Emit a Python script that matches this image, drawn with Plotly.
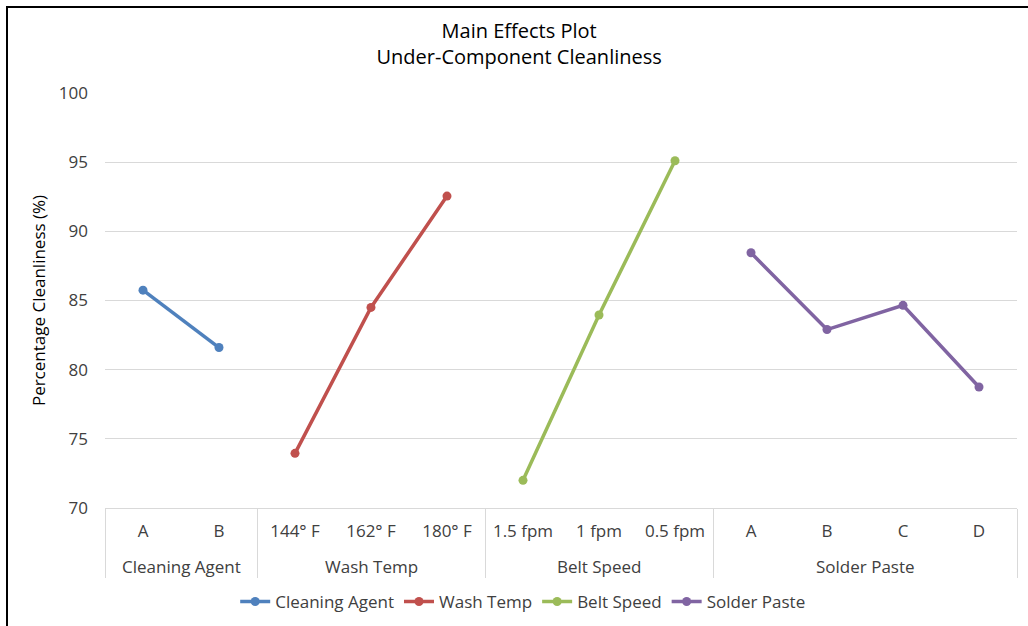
import plotly.graph_objects as go

groups = ["Cleaning Agent", "Wash Temp", "Belt Speed", "Solder Paste"]
levels = {
    "Cleaning Agent": ["A", "B"],
    "Wash Temp": ["144° F", "162° F", "180° F"],
    "Belt Speed": ["1.5 fpm", "1 fpm", "0.5 fpm"],
    "Solder Paste": ["A", "B", "C", "D"],
}
values = {
    "Cleaning Agent": [85.75, 81.6],
    "Wash Temp": [73.95, 84.5, 92.55],
    "Belt Speed": [72.0, 83.95, 95.1],
    "Solder Paste": [88.45, 82.9, 84.65, 78.75],
}
colors = {
    "Cleaning Agent": "#4F81BD",
    "Wash Temp": "#C0504D",
    "Belt Speed": "#9BBB59",
    "Solder Paste": "#8064A2",
}

FONT = "'Open Sans', Lato, sans-serif"

# category slot positions derived from the group/level structure
positions = {}
tick_vals, tick_text, bounds, centers = [], [], [-0.5], []
i = 0
for g in groups:
    pos = list(range(i, i + len(levels[g])))
    positions[g] = pos
    tick_vals += pos
    tick_text += levels[g]
    centers.append((pos[0] + pos[-1]) / 2)
    i += len(levels[g])
    bounds.append(i - 0.5)

fig = go.Figure()
for g in groups:
    fig.add_trace(go.Scatter(
        x=positions[g],
        y=values[g],
        mode="lines+markers",
        name=g,
        line=dict(color=colors[g], width=3.5),
        marker=dict(color=colors[g], size=9),
    ))

annotations = [
    dict(text=g, x=c, xref="x", y=-58 / 415, yref="paper",
         xanchor="center", yanchor="middle", showarrow=False,
         font=dict(family=FONT, size=17, color="#404040"))
    for g, c in zip(groups, centers)
]

fig.update_layout(
    width=1028, height=626,
    margin=dict(l=105, r=11, t=93, b=118, autoexpand=False),
    paper_bgcolor="white", plot_bgcolor="white",
    font=dict(family=FONT, color="#404040", size=16),
    title=dict(
        text="Main Effects Plot<br>Under-Component Cleanliness",
        x=0.505, xanchor="center", y=1 - 38 / 626, yanchor="top",
        font=dict(family=FONT, size=20, color="#000000"),
    ),
    showlegend=True,
    legend=dict(
        orientation="h", x=0.458, xanchor="center", y=-94 / 415, yanchor="middle",
        font=dict(family=FONT, size=17, color="#404040"),
    ),
    xaxis=dict(
        range=[-0.5, 11.5], automargin=False,
        tickmode="array", tickvals=tick_vals, ticktext=tick_text,
        showgrid=False, zeroline=False,
        showline=True, linecolor="#D9D9D9", linewidth=1,
        ticks="", ticklabelstandoff=8,
        tickfont=dict(family=FONT, size=17, color="#404040"),
        minor=dict(tickmode="array", tickvals=bounds, ticks="outside",
                   ticklen=69, tickcolor="#D9D9D9", tickwidth=1, showgrid=False),
    ),
    yaxis=dict(
        range=[70, 100], dtick=5, automargin=False,
        showgrid=True, gridcolor="#D9D9D9", gridwidth=1,
        zeroline=False, showline=False,
        ticks="", ticklabelstandoff=16,
        tickfont=dict(family=FONT, size=17, color="#404040"),
        title=dict(text="Percentage Cleanliness (%)", standoff=8,
                   font=dict(family=FONT, size=17, color="#000000")),
    ),
    annotations=annotations,
    shapes=[dict(
        type="rect", xref="paper", yref="paper",
        x0=-98 / 912, x1=1.05, y0=-0.4, y1=1 + 86 / 415,
        line=dict(color="#000000", width=2), fillcolor="rgba(0,0,0,0)",
        layer="above",
    )],
)

fig.write_html("out.html")
